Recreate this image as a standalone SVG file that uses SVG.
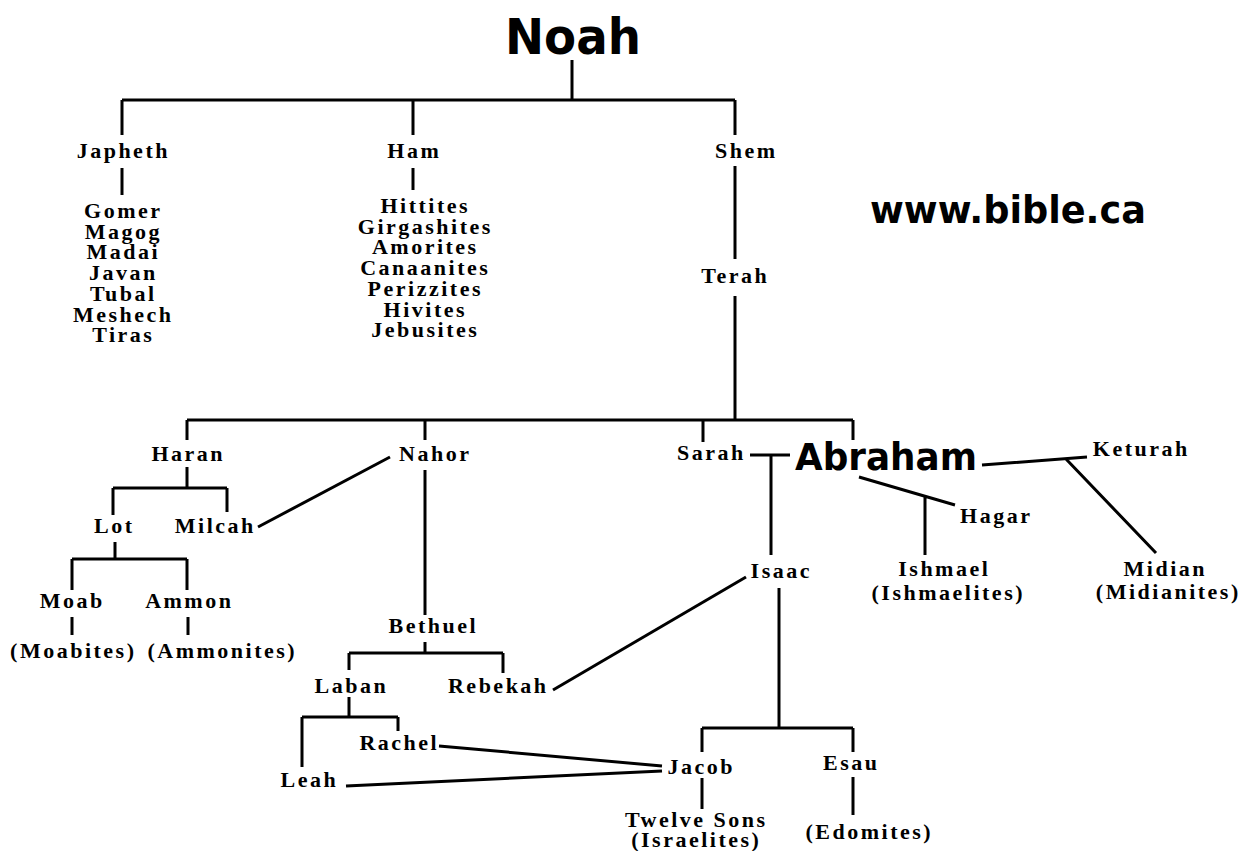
<svg xmlns="http://www.w3.org/2000/svg" width="1251" height="851" viewBox="0 0 1251 851">
<style>
.bg{fill:#ffffff}
.t{font-family:"Liberation Serif","Times New Roman",serif;font-weight:bold;font-size:22px;letter-spacing:2.5px;text-anchor:middle;fill:#000}
.big{font-family:"DejaVu Sans","Noto Sans",sans-serif;font-weight:bold;text-anchor:middle;fill:#000}
#connectors path{fill:none;stroke:#000;stroke-width:3;stroke-linecap:butt;stroke-linejoin:miter}
</style>
<rect class="bg" x="0" y="0" width="1251" height="851"/>
<g id="connectors">
<path d="M572,60 V100"/>
<path d="M122,100 H735"/>
<path d="M122,100 V135 M413,100 V135 M735,100 V135"/>
<path d="M122,168 V195"/>
<path d="M413,168 V190"/>
<path d="M735,166 V259"/>
<path d="M735,296 V420"/>
<path d="M187,420 H853"/>
<path d="M187,420 V440 M425,420 V440 M703,420 V442 M853,420 V440"/>
<path d="M187,467 V488 M113,488 H227 M113,488 V515 M227,488 V512"/>
<path d="M115,542 V559 M72,559 H187 M72,559 V590 M187,559 V590"/>
<path d="M72,617 V635 M188,617 V635"/>
<path d="M258,527 L390,457"/>
<path d="M425,470 V615"/>
<path d="M425,642 V653 M349,653 H503 M349,653 V670 M503,653 V673"/>
<path d="M349,697 V717 M302,717 H398 M302,717 V767 M398,717 V731"/>
<path d="M439,746 L662,766"/>
<path d="M346,786 L662,771"/>
<path d="M553,690 L746,577"/>
<path d="M750,455 H790 M771,455 V555"/>
<path d="M779,588 V728"/>
<path d="M702,728 H853 M702,728 V752 M853,728 V752"/>
<path d="M702,778 V809 M853,777 V815"/>
<path d="M859,477 L955,505 M925,496 V555"/>
<path d="M982,465 L1087,457 M1066,459 L1156,553"/>
</g>
<g id="noah"><text class="big" x="573" y="54" font-size="49" textLength="136" lengthAdjust="spacingAndGlyphs">Noah</text></g>
<g id="website"><text class="big" x="1008" y="223" font-size="37" textLength="276" lengthAdjust="spacingAndGlyphs">www.bible.ca</text></g>
<g id="japheth"><text class="t" x="123.3" y="158">Japheth</text></g>
<g id="ham"><text class="t" x="414.3" y="158">Ham</text></g>
<g id="shem"><text class="t" x="746.3" y="158">Shem</text></g>
<g id="japheth-sons">
<text class="t" x="123.3" y="218">Gomer</text>
<text class="t" x="123.3" y="238.7">Magog</text>
<text class="t" x="123.3" y="259.4">Madai</text>
<text class="t" x="123.3" y="280">Javan</text>
<text class="t" x="123.3" y="300.8">Tubal</text>
<text class="t" x="123.3" y="321.5">Meshech</text>
<text class="t" x="123.3" y="342.2">Tiras</text>
</g>
<g id="ham-nations">
<text class="t" x="425.3" y="213">Hittites</text>
<text class="t" x="425.3" y="233.7">Girgashites</text>
<text class="t" x="425.3" y="254.4">Amorites</text>
<text class="t" x="425.3" y="275">Canaanites</text>
<text class="t" x="425.3" y="295.8">Perizzites</text>
<text class="t" x="425.3" y="316.5">Hivites</text>
<text class="t" x="425.3" y="337.2">Jebusites</text>
</g>
<g id="terah"><text class="t" x="735.3" y="283">Terah</text></g>
<g id="haran"><text class="t" x="188.3" y="461">Haran</text></g>
<g id="nahor"><text class="t" x="435.3" y="461">Nahor</text></g>
<g id="sarah"><text class="t" x="711.3" y="460">Sarah</text></g>
<g id="abraham"><text class="big" x="886" y="470" font-size="37" textLength="182" lengthAdjust="spacingAndGlyphs">Abraham</text></g>
<g id="keturah"><text class="t" x="1141.3" y="456">Keturah</text></g>
<g id="lot"><text class="t" x="114.3" y="533">Lot</text></g>
<g id="milcah"><text class="t" x="215.3" y="533">Milcah</text></g>
<g id="hagar"><text class="t" x="996.3" y="523">Hagar</text></g>
<g id="isaac"><text class="t" x="781.3" y="578">Isaac</text></g>
<g id="ishmael"><text class="t" x="944.3" y="576">Ishmael</text><text class="t" x="948.3" y="600">(Ishmaelites)</text></g>
<g id="midian"><text class="t" x="1165.3" y="576">Midian</text><text class="t" x="1168.3" y="599">(Midianites)</text></g>
<g id="moab"><text class="t" x="72.3" y="608">Moab</text><text class="t" x="73.3" y="658">(Moabites)</text></g>
<g id="ammon"><text class="t" x="189.3" y="608">Ammon</text><text class="t" x="222.3" y="658">(Ammonites)</text></g>
<g id="bethuel"><text class="t" x="433.3" y="633">Bethuel</text></g>
<g id="laban"><text class="t" x="351.3" y="693">Laban</text></g>
<g id="rebekah"><text class="t" x="498.3" y="693">Rebekah</text></g>
<g id="rachel"><text class="t" x="399.3" y="750">Rachel</text></g>
<g id="leah"><text class="t" x="309.3" y="787">Leah</text></g>
<g id="jacob"><text class="t" x="701.3" y="774">Jacob</text></g>
<g id="esau"><text class="t" x="851.3" y="770">Esau</text></g>
<g id="twelve-sons"><text class="t" x="696.3" y="827">Twelve Sons</text><text class="t" x="696.3" y="847">(Israelites)</text></g>
<g id="edomites"><text class="t" x="869.3" y="839">(Edomites)</text></g>
</svg>
